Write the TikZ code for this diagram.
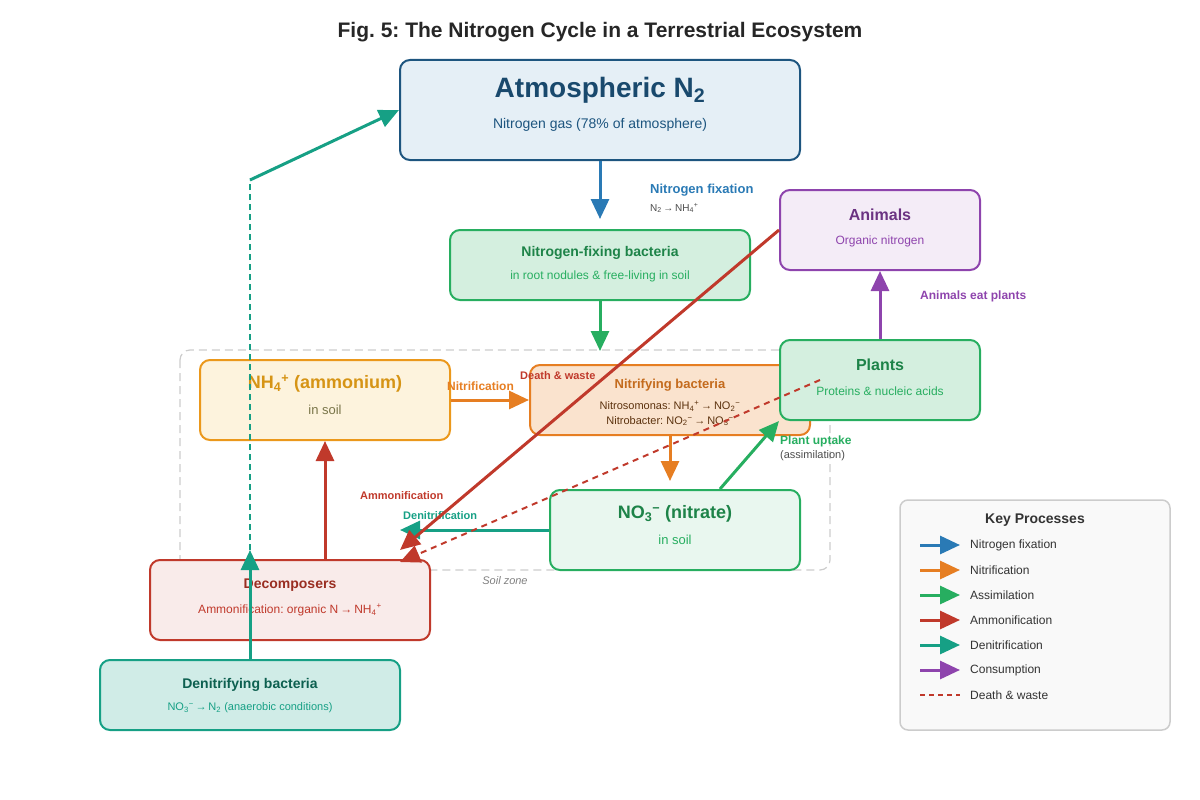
\documentclass[tikz,border=0pt]{standalone}
\usepackage{fontspec}
\setmainfont{Liberation Sans}
\usetikzlibrary{arrows.meta,calc}
\frenchspacing
\definecolor{fixcolor}{HTML}{2A7AB5}
\definecolor{nitcolor}{HTML}{E67E22}
\definecolor{asscolor}{HTML}{27AE60}
\definecolor{ammcolor}{HTML}{C0392B}
\definecolor{dencolor}{HTML}{16A085}
\definecolor{concolor}{HTML}{8E44AD}
\newcommand{\fs}[1]{\fontsize{#1}{#1}\selectfont}
\newcommand{\sub}[1]{\textsubscript{#1}}
\newcommand{\sups}[1]{\textsuperscript{#1}}
\newcommand{\too}{\,→\,}
\tikzset{
  box/.style={draw, line width=2pt, rounded corners=10pt, inner sep=0pt},
  flow/.style={line width=3pt, -{Triangle[length=20pt,width=18pt]}},
  tag/.style={font=\bfseries\fs{12}, anchor=west, inner sep=0pt}
}
\begin{document}
\begin{tikzpicture}[x=1pt,y=-1pt]
    \useasboundingbox (0,0) rectangle (1200,800);
    \node[font=\bfseries\fs{21}, text=black!85] (title) at (600,32) {Fig. 5: The Nitrogen Cycle in a Terrestrial Ecosystem};

    % Soil zone
    \draw[gray!40, line width=1.2pt, dash pattern=on 8pt off 5pt, rounded corners=10pt] (180,350) rectangle (830,570);
    \node[font=\itshape\fs{11}, text=gray] (soil) at (505,581) {Soil zone};

    % Boxes
    \node[box, draw=fixcolor!70!black, fill=fixcolor!12, minimum width=400pt, minimum height=100pt] (atm) at (600,110) {};
    \node[font=\bfseries\fs{28}, text=fixcolor!60!black] at (600,90) {Atmospheric N\sub{2}};
    \node[font=\fs{14}, text=fixcolor!70!black] at (600,125) {Nitrogen gas (78\% of atmosphere)};

    \node[box, draw=asscolor, fill=asscolor!20, minimum width=300pt, minimum height=70pt] (nfb) at (600,265) {};
    \node[font=\bfseries\fs{14}, text=asscolor!75!black] at (600,253) {Nitrogen-fixing bacteria};
    \node[font=\fs{12}, text=asscolor] at (600,276) {in root nodules \& free-living in soil};

    \node[box, draw=nitcolor!80!yellow, fill=nitcolor!10!white!95!yellow, minimum width=250pt, minimum height=80pt] (nh4) at (325,400) {};
    \node[font=\bfseries\fs{18}, text=nitcolor!70!yellow!90!black] at (325,384) {NH\sub{4}\sups{+} (ammonium)};
    \node[font=\fs{13}, text=yellow!40!black] at (325,410) {in soil};

    \node[box, draw=nitcolor, fill=nitcolor!22, minimum width=280pt, minimum height=70pt] (nitb) at (670,400) {};
    \node[font=\bfseries\fs{13}, text=nitcolor!85!black] at (670,385) {Nitrifying bacteria};
    \node[font=\fs{11}, text=nitcolor!40!black] at (670,406) {Nitrosomonas: NH\sub{4}\sups{+}\too NO\sub{2}\sups{−}};
    \node[font=\fs{11}, text=nitcolor!40!black] at (670,421) {Nitrobacter: NO\sub{2}\sups{−}\too NO\sub{3}\sups{−}};

    \node[box, draw=concolor, fill=concolor!10, minimum width=200pt, minimum height=80pt] (animals) at (880,230) {};
    \node[font=\bfseries\fs{16}, text=concolor!75!black] at (880,215) {Animals};
    \node[font=\fs{12}, text=concolor] at (880,241) {Organic nitrogen};

    \node[box, draw=asscolor, fill=asscolor!20, minimum width=200pt, minimum height=80pt] (plants) at (880,380) {};
    \node[font=\bfseries\fs{16}, text=asscolor!75!black] at (880,365) {Plants};
    \node[font=\fs{12}, text=asscolor] at (880,391) {Proteins \& nucleic acids};

    \node[box, draw=asscolor, fill=asscolor!10, minimum width=250pt, minimum height=80pt] (no3) at (675,530) {};
    \node[font=\bfseries\fs{18}, text=asscolor!75!black] at (675,514) {NO\sub{3}\sups{−} (nitrate)};
    \node[font=\fs{13}, text=asscolor] at (675,540) {in soil};

    \node[box, draw=ammcolor, fill=ammcolor!10, minimum width=280pt, minimum height=80pt] (dec) at (290,600) {};
    \node[font=\bfseries\fs{14}, text=ammcolor!80!black] at (290,585) {Decomposers};
    \node[font=\fs{12}, text=ammcolor] at (290,610) {Ammonification: organic N\too NH\sub{4}\sups{+}};

    \node[box, draw=dencolor, fill=dencolor!20, minimum width=300pt, minimum height=70pt] (denb) at (250,695) {};
    \node[font=\bfseries\fs{14}, text=dencolor!60!black] at (250,685) {Denitrifying bacteria};
    \node[font=\fs{11}, text=dencolor] at (250,708) {NO\sub{3}\sups{−}\too N\sub{2} (anaerobic conditions)};

    % Free ends
    \coordinate (deadend) at (400,550);
    \coordinate (wasteend) at (400,562);
    \coordinate (wastestart) at (820,380);
    \coordinate (bend) at (250,180);
    \coordinate (dashlow) at (250,570);
    \coordinate (denend) at (400,530);

    % Flows
    \draw[flow, fixcolor] (atm.south) -- (nfb.north) [shorten >=10pt];
    \node[tag, text=fixcolor, font=\bfseries\fs{13}] (fixlab) at (650,190) {Nitrogen fixation};
    \node[tag, text=black!70, font=\fs{10}] at (650,208) {N\sub{2}\too NH\sub{4}\sups{+}};
    \draw[flow, asscolor] (nfb.south) -- ++(0,50);
    \draw[flow, nitcolor] (nh4.east) -- (nitb.west);
    \node[tag, text=nitcolor] at (447,386) {Nitrification};
    \draw[flow, nitcolor] (nitb.south) -- ++(0,45);
    \draw[flow, asscolor] (no3.north) ++(45,0) -- (plants.south west);
    \node[tag, text=asscolor] at (780,441) {Plant uptake};
    \node[tag, text=black!70, font=\fs{11}] at (780,456) {(assimilation)};
    \draw[flow, concolor] (plants.north) -- (animals.south);
    \node[tag, text=concolor] at (920,296) {Animals eat plants};
    \draw[flow, dencolor] (no3.west) -- (denend);
    \node[tag, text=dencolor, font=\bfseries\fs{11}] at (403,516) {Denitrification};
    \draw[flow, ammcolor] (dec.north -| nh4.south) -- (nh4.south);
    \node[tag, text=ammcolor, font=\bfseries\fs{11}] at (360,496) {Ammonification};
    \draw[flow, ammcolor] (animals.west) -- (deadend);
    \draw[flow, ammcolor, line width=2pt, dash pattern=on 6pt off 5pt] (wastestart) -- (wasteend);
    \node[tag, text=ammcolor, font=\bfseries\fs{11}] at (520,376) {Death \& waste};
    \draw[flow, dencolor] (denb.north) -- (250,550);
    \draw[dencolor, line width=2pt, dash pattern=on 6pt off 4pt] (dashlow) -- (bend);
    \draw[flow, dencolor] (bend) -- (atm.west) [shorten >=0pt];

    % Legend
    \node[draw=gray!40, line width=1.5pt, fill=gray!5, rounded corners=8pt, minimum width=270pt, minimum height=230pt] (legend) at (1035,615) {};
    \node[font=\bfseries\fs{14}, text=black!80] (legtitle) at (1035,520) {Key Processes};
    \foreach \c/\t [count=\i from 0] in {fixcolor/Nitrogen fixation, nitcolor/Nitrification, asscolor/Assimilation, ammcolor/Ammonification, dencolor/Denitrification, concolor/Consumption} {
        \coordinate (ls\i) at (920,545+25*\i);
        \draw[flow, \c] (ls\i) -- ++(40,0);
        \node[tag, font=\fs{12}, text=black!80] at (970,545+25*\i) {\t};
    }
    \coordinate (ls6) at (920,695);
    \draw[ammcolor, line width=1.5pt, dash pattern=on 5pt off 4pt] (ls6) -- ++(40,0);
    \node[tag, font=\fs{12}, text=black!80] at (970,695) {Death \& waste};
\end{tikzpicture}
\end{document}
